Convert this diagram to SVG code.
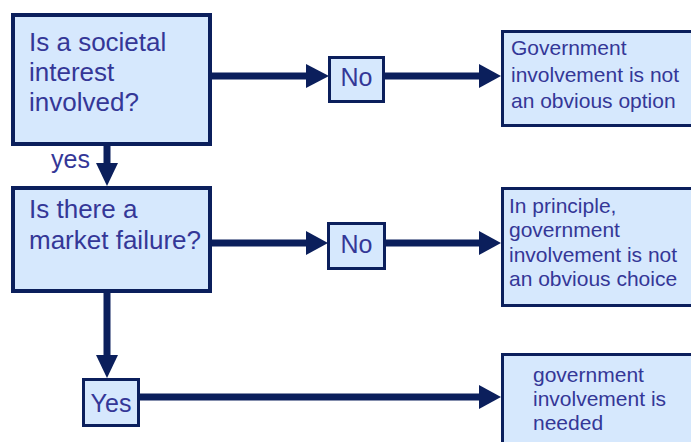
<svg xmlns="http://www.w3.org/2000/svg" width="691" height="442" viewBox="0 0 691 442">
  <style>
    .box { fill: #D6E8FD; stroke: #0B1F5C; stroke-width: 4; }
    .small { stroke-width: 3; }
    .t { font-family: "Liberation Sans", Arial, sans-serif; fill: #343797; }
    .q { font-size: 26px; }
    .lbl { font-size: 25px; }
    .r { font-size: 21px; }
    .edge { stroke: #0B1F5C; stroke-width: 7; fill: none; }
    .head { fill: #0B1F5C; }
  </style>
  <rect width="691" height="442" fill="#FFFFFF"/>

  <g id="connectors">
    <!-- question 1 -> No -->
    <line class="edge" x1="212" y1="76" x2="308" y2="76"/>
    <polygon class="head" points="306,64 329,76 306,88"/>
    <!-- No -> result 1 -->
    <line class="edge" x1="385" y1="76" x2="482" y2="76"/>
    <polygon class="head" points="479,64 501,76 479,88"/>
    <!-- question 1 -> question 2 (yes) -->
    <line class="edge" x1="107" y1="146" x2="107" y2="165"/>
    <polygon class="head" points="96,163 118,163 107,186"/>
    <!-- question 2 -> No -->
    <line class="edge" x1="212" y1="243" x2="308" y2="243"/>
    <polygon class="head" points="306,231 328,243 306,255"/>
    <!-- No -> result 2 -->
    <line class="edge" x1="386" y1="243" x2="482" y2="243"/>
    <polygon class="head" points="479,231 501,243 479,255"/>
    <!-- question 2 -> Yes -->
    <line class="edge" x1="107" y1="293" x2="107" y2="357"/>
    <polygon class="head" points="96,355 118,355 107,378"/>
    <!-- Yes -> result 3 -->
    <line class="edge" x1="140" y1="397" x2="482" y2="397"/>
    <polygon class="head" points="479,385 501,397 479,409"/>
    <text class="t lbl" x="51" y="168">yes</text>
  </g>

  <g id="q-societal">
    <rect class="box" x="13" y="15" width="197" height="129"/>
    <text class="t q" x="29" y="51">Is a societal</text>
    <text class="t q" x="29" y="81">interest</text>
    <text class="t q" x="29" y="111">involved?</text>
  </g>

  <g id="no-1">
    <rect class="box small" x="329.5" y="57.5" width="54" height="44"/>
    <text class="t lbl" x="356.5" y="86" text-anchor="middle">No</text>
  </g>

  <g id="result-option">
    <rect class="box small" x="502.5" y="31.5" width="200" height="94"/>
    <text class="t r" x="511" y="55">Government</text>
    <text class="t r" x="511" y="82">involvement is not</text>
    <text class="t r" x="511" y="108">an obvious option</text>
  </g>

  <g id="q-market">
    <rect class="box" x="13" y="188" width="197" height="103"/>
    <text class="t q" x="29" y="218">Is there a</text>
    <text class="t q" x="29" y="249">market failure?</text>
  </g>

  <g id="no-2">
    <rect class="box small" x="328.5" y="223.5" width="56" height="45"/>
    <text class="t lbl" x="356.5" y="253" text-anchor="middle">No</text>
  </g>

  <g id="result-choice">
    <rect class="box small" x="502.5" y="188.5" width="200" height="117"/>
    <text class="t r" x="509" y="213">In principle,</text>
    <text class="t r" x="509" y="237">government</text>
    <text class="t r" x="509" y="262">involvement is not</text>
    <text class="t r" x="509" y="286">an obvious choice</text>
  </g>

  <g id="yes">
    <rect class="box small" x="83.5" y="379.5" width="55" height="46"/>
    <text class="t lbl" x="111" y="412" text-anchor="middle">Yes</text>
  </g>

  <g id="result-needed">
    <rect class="box small" x="502.5" y="354.5" width="200" height="100"/>
    <text class="t r" x="533" y="382">government</text>
    <text class="t r" x="533" y="406">involvement is</text>
    <text class="t r" x="533" y="430">needed</text>
  </g>
</svg>
